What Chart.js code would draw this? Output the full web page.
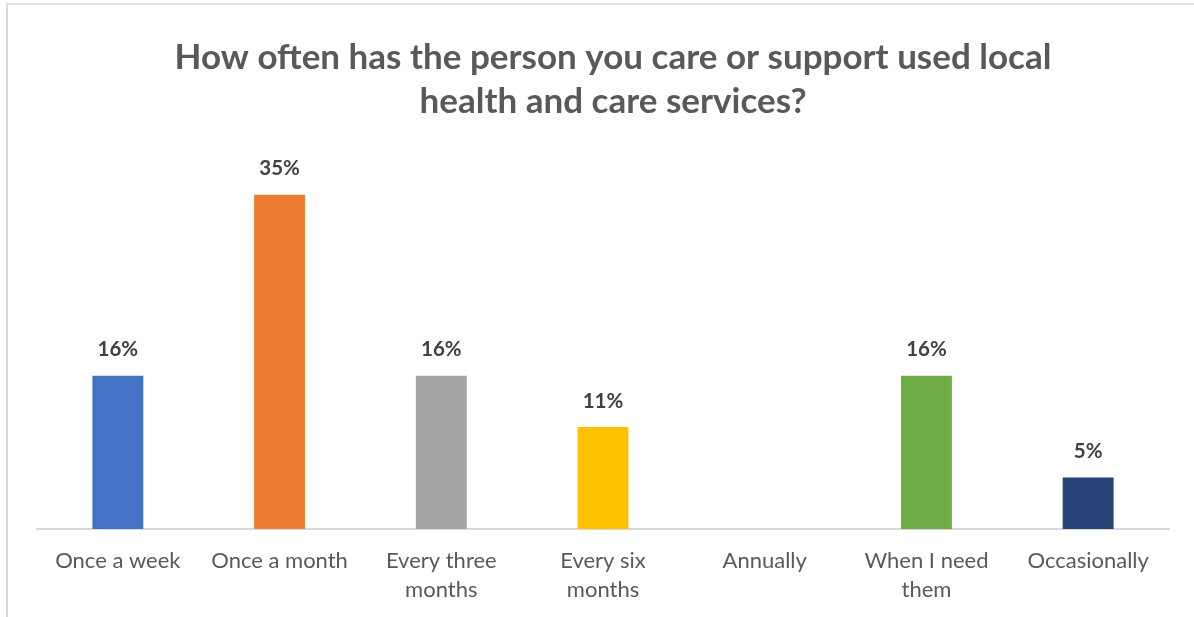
<!DOCTYPE html>
<html>
<head>
<meta charset="utf-8">
<script src="https://cdn.jsdelivr.net/npm/chart.js@4/dist/chart.umd.min.js"></script>
<style>
	html, body { margin: 0; padding: 0; background: #fff; overflow: hidden; }
	#frame {
		position: absolute; left: 6px; top: 3px; width: 1220px; height: 640px;
		border-left: 2px solid #d9d9d9; border-top: 2px solid #e0e0e0;
	}
	#wrap { position: absolute; left: 1px; top: 1px; width: 1208px; height: 615px; }
</style>
</head>
<body>
<div id="frame">
	<div id="wrap"><canvas id="usage-chart"></canvas></div>
</div>
<script>
	// chart data
	const categories = ['Once a week', 'Once a month', ['Every three', 'months'], ['Every six', 'months'], 'Annually', ['When I need', 'them'], 'Occasionally'];
	const shares = [16.1, 35.1, 16.1, 10.7, 0, 16.1, 5.4];
	const barColors = ['#4472C4', '#ED7D31', '#A5A5A5', '#FFC000', '#5B9BD5', '#70AD47', '#264478'];
	const titleLines = ['How often has the person you care or support used local', 'health and care services?'];

	// draws the % labels above each bar (no datalabels plugin available offline)
	const barLabels = {
		id: 'barLabels',
		afterDatasetsDraw(chart) {
			const ctx = chart.ctx;
			const meta = chart.getDatasetMeta(0);
			ctx.save();
			ctx.font = 'bold 20.5px Lato, sans-serif';
			ctx.fillStyle = '#404040';
			ctx.textAlign = 'center';
			ctx.textBaseline = 'middle';
			meta.data.forEach(function(bar, i) {
				var v = chart.data.datasets[0].data[i];
				if( v > 0 ) {
					ctx.fillText(Math.round(v) + '%', bar.x, bar.y - 26);
				}
			});
			ctx.restore();
		}
	};

	// invisible side axes just to reserve space, so the title stays centred on the canvas
	function spacer(w) {
		return function(scale) { scale.width = w; };
	}

	const config = {
		type: 'bar',
		data: {
			labels: categories,
			datasets: [{
				data: shares,
				backgroundColor: barColors,
				barPercentage: 0.63,
				categoryPercentage: 0.5
			}]
		},
		options: {
			responsive: true,
			maintainAspectRatio: false,
			animation: false,
			layout: { padding: 0 },
			plugins: {
				legend: { display: false },
				tooltip: { enabled: false },
				title: {
					display: true,
					text: titleLines,
					color: '#595959',
					font: { family: 'Lato, sans-serif', size: 35, weight: 'bold', lineHeight: 44 / 35 },
					padding: { top: 30, bottom: 24 }
				}
			},
			scales: {
				x: {
					grid: { display: false, drawTicks: false },
					border: { display: true, color: '#d9d9d9', width: 2 },
					ticks: {
						color: '#595959',
						font: { family: 'Lato, sans-serif', size: 22, lineHeight: 29 / 22 },
						padding: 17,
						maxRotation: 0,
						autoSkip: false
					}
				},
				y: {
					display: true,
					position: 'left',
					min: 0,
					max: 40,
					grid: { display: false },
					border: { display: false },
					ticks: { display: false },
					afterFit: spacer(28)
				},
				yRight: {
					display: true,
					position: 'right',
					min: 0,
					max: 40,
					grid: { display: false },
					border: { display: false },
					ticks: { display: false },
					afterFit: spacer(48)
				}
			}
		},
		plugins: [barLabels]
	};

	new Chart(document.getElementById('usage-chart'), config);
</script>
</body>
</html>
